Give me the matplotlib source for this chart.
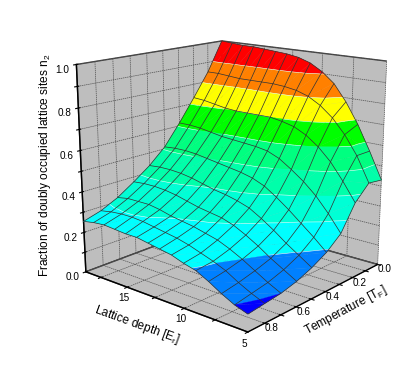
import matplotlib
matplotlib.use("Agg")
import matplotlib.pyplot as plt
import numpy as np
from mpl_toolkits.mplot3d.art3d import Poly3DCollection, Line3DCollection

plt.rcParams['font.family'] = ['Liberation Sans', 'DejaVu Sans']
plt.rcParams['mathtext.default'] = 'regular'
plt.rcParams['grid.color'] = '#505050'
plt.rcParams['grid.linewidth'] = 0.5
plt.rcParams['grid.linestyle'] = (0, (2, 1))

lattice = [5, 6, 7, 8, 9, 10, 11, 12, 13, 14, 15, 16, 17, 18, 19]
temperature = [0.0, 0.1, 0.2, 0.3, 0.4, 0.5, 0.6, 0.7, 0.8, 0.9]
n2_t00 = [.43, .56, .68, .78, .86, .91, .945, .965, .975, .98, .985, .99, .99, .995, 1.0]
n2_t01 = [.44, .56, .65, .72, .77, .805, .825, .835, .84, .84, .84, .84, .845, .85, .85]
n2_t02 = [.37, .46, .54, .60, .645, .675, .69, .70, .70, .70, .70, .705, .715, .725, .73]
n2_t03 = [.25, .33, .40, .455, .50, .54, .565, .575, .58, .585, .59, .60, .61, .615, .615]
n2_t04 = [.19, .245, .295, .345, .39, .43, .455, .47, .48, .49, .50, .51, .515, .515, .51]
n2_t05 = [.15, .19, .23, .275, .315, .35, .37, .385, .395, .41, .425, .435, .44, .44, .435]
n2_t06 = [.12, .155, .19, .23, .265, .295, .315, .325, .335, .35, .365, .375, .38, .38, .375]
n2_t07 = [.10, .13, .165, .20, .23, .255, .27, .285, .295, .305, .32, .33, .33, .33, .32]
n2_t08 = [.09, .115, .145, .18, .205, .225, .245, .26, .27, .28, .29, .295, .295, .29, .28]
n2_t09 = [.08, .10, .13, .165, .195, .21, .23, .24, .25, .26, .26, .265, .27, .265, .255]
band_colors = ['#0000FF', '#0080FF', '#00FFFF', '#00FFD5', '#00FFAA', '#00FF80',
               '#00FF00', '#FFFF00', '#FF8000', '#FF0000']

Z = np.array([n2_t00, n2_t01, n2_t02, n2_t03, n2_t04, n2_t05, n2_t06, n2_t07, n2_t08, n2_t09])
X, Y = np.meshgrid(lattice, temperature)


def clip(poly, level, keep_above):
    out = []
    for i in range(len(poly)):
        a, b = poly[i], poly[(i + 1) % len(poly)]
        a_in = a[2] >= level if keep_above else a[2] <= level
        b_in = b[2] >= level if keep_above else b[2] <= level
        if a_in:
            out.append(a)
        if a_in != b_in:
            t = (level - a[2]) / (b[2] - a[2])
            out.append(tuple(a[k] + t * (b[k] - a[k]) for k in range(3)))
    return out


# cut every mesh cell along the colour levels
polys, colors, seams = [], [], []
for i in range(len(temperature) - 1):
    for j in range(len(lattice) - 1):
        p = [(X[i + a, j + b], Y[i + a, j + b], Z[i + a, j + b]) for a, b in [(0, 0), (0, 1), (1, 1), (1, 0)]]
        for tri in ([p[0], p[1], p[2]], [p[0], p[2], p[3]]):
            for k, c in enumerate(band_colors):
                part = clip(tri, k / 10, True)
                if part:
                    part = clip(part, (k + 1) / 10, False)
                if len(part) > 2:
                    polys.append(part)
                    colors.append(c)
                    on_line = [q for q in part if abs(q[2] - (k + 1) / 10) < 1e-9]
                    if len(on_line) == 2:
                        seams.append(on_line)

fig = plt.figure(figsize=(4.15, 3.71), dpi=100)
ax = fig.add_axes([20.7 / 415, 11.9 / 371, 1, 1], projection='3d')
ax.computed_zorder = False
ax.set_xlim(5, 19, view_margin=0)
ax.set_ylim(0, 0.9, view_margin=0)
ax.set_zlim(0, 1, view_margin=0)
ax.view_init(elev=15.759, azim=130.635)
ax.set_proj_type('persp', focal_length=0.469)
ax.set_box_aspect((1.009, 0.991, 1), zoom=0.966)

ax.add_collection3d(Poly3DCollection(polys, facecolors=colors, edgecolors=colors, linewidths=0.2, zorder=5), autolim=False)
ax.add_collection3d(Line3DCollection(seams, colors='#E8FFF8', linewidths=0.4, zorder=6), autolim=False)
mesh = []
for i in range(len(temperature)):
    mesh.append(np.column_stack([X[i], Y[i], Z[i]]))
for j in range(len(lattice)):
    mesh.append(np.column_stack([X[:, j], Y[:, j], Z[:, j]]))
ax.add_collection3d(Line3DCollection(mesh, colors='#303030', linewidths=0.5, zorder=7), autolim=False)

ax.set_xticks([5, 7.5, 10, 12.5, 15, 17.5], ['5', '', '10', '', '15', ''])
ax.set_yticks([0, .1, .2, .3, .4, .5, .6, .7, .8], ['0.0', '', '0.2', '', '0.4', '', '0.6', '', '0.8'])
ax.set_zticks([0, .1, .2, .3, .4, .5, .6, .7, .8, .9, 1], ['0.0', '', '0.2', '', '0.4', '', '0.6', '', '0.8', '', '1.0'])
ax.tick_params(axis='x', labelsize=7.2, pad=-5)
ax.tick_params(axis='y', labelsize=7.2, pad=-8)
ax.tick_params(axis='z', labelsize=7.2, pad=-2)
for lab in ax.get_yticklabels():
    lab.set_ha('left')
ax.zaxis.set_ticks_position('upper')
for a in (ax.xaxis, ax.yaxis, ax.zaxis):
    a.set_pane_color('#BEBEBE')
    a.pane.set_edgecolor('#404040')
    a.line.set_linewidth(1.0)

fig.text(0.33, 0.124, 'Lattice depth [E$_r$]', rotation=-20, ha='center', va='center', fontsize=8.6)
fig.text(0.834, 0.164, 'Temperature [T$_F$]', rotation=28, ha='center', va='center', fontsize=8.6)
fig.text(0.108, 0.555, 'Fraction of doubly occupied lattice sites n$_2$', rotation=90, ha='center', va='center', fontsize=8.6)
fig.savefig('out.png', dpi=100)
